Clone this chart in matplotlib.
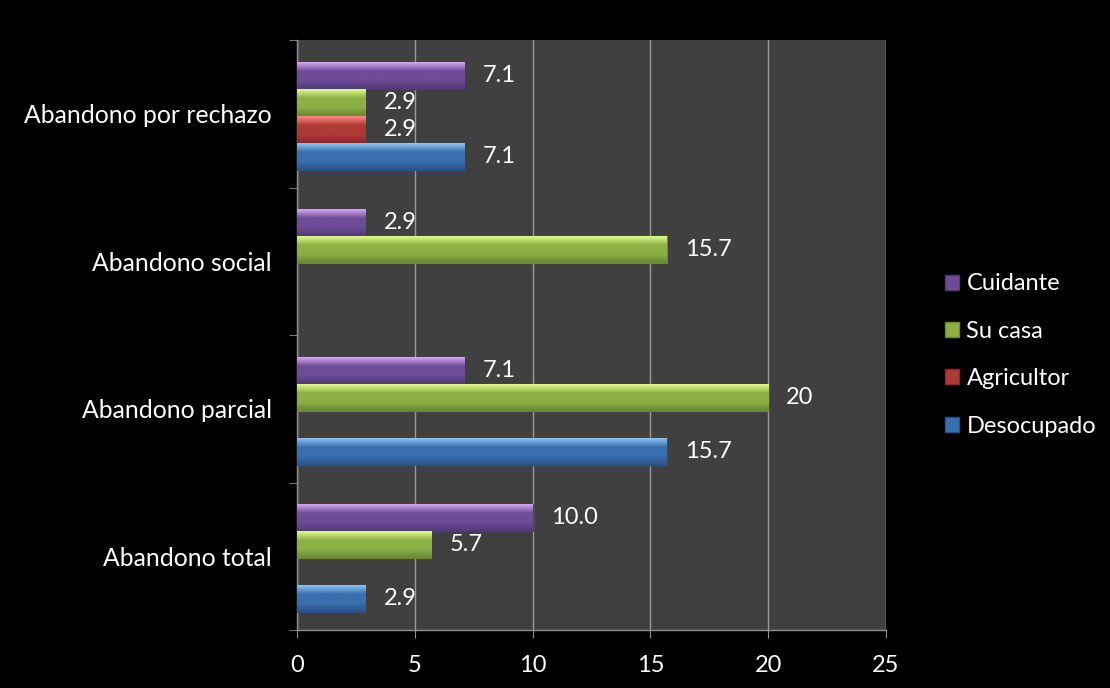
import matplotlib
matplotlib.use("Agg")
import matplotlib.pyplot as plt
import numpy as np
from matplotlib.colors import LinearSegmentedColormap
from matplotlib.patches import Patch

categories = ["Abandono total", "Abandono parcial", "Abandono social", "Abandono por rechazo"]
series_names = ["Desocupado", "Agricultor", "Su casa", "Cuidante"]
desocupado = [2.9, 15.7, None, 7.1]
agricultor = [None, None, None, 2.9]
su_casa = [5.7, 20, 15.7, 2.9]
cuidante = [10.0, 7.1, 2.9, 7.1]
labels_desocupado = ["2.9", "15.7", "", "7.1"]
labels_agricultor = ["", "", "", "2.9"]
labels_su_casa = ["5.7", "20", "15.7", "2.9"]
labels_cuidante = ["10.0", "7.1", "2.9", "7.1"]
x_ticks = [0, 5, 10, 15, 20, 25]

series = [desocupado, agricultor, su_casa, cuidante]
labels = [labels_desocupado, labels_agricultor, labels_su_casa, labels_cuidante]
base_cols = ["#3a6fb0", "#b03a36", "#8db046", "#6e4c98"]
light_cols = ["#8cc4f4", "#ff8a86", "#e0fa8a", "#d6a8f4"]
dark_cols = ["#2a5288", "#8a2a28", "#6a8a30", "#523a78"]

FONT = "Lato"
FS = 17
plt.rcParams["font.family"] = [FONT, "DejaVu Sans"]

fig = plt.figure(figsize=(11.1, 6.88), dpi=100, facecolor="black")
ax = fig.add_axes([297/1110, 1-630/688, (886-297)/1110, (630-40)/688])
ax.set_facecolor("#404040")

slot = 0.183
shift = -0.014
offsets = [-1.5*slot, -0.5*slot, 0.5*slot, 1.5*slot]
y = np.arange(len(categories))

for si, (vals, labs) in enumerate(zip(series, labels)):
    cmap = LinearSegmentedColormap.from_list(
        "g%d" % si, [dark_cols[si], base_cols[si], base_cols[si], light_cols[si]])
    grad = np.linspace(0, 1, 64).reshape(-1, 1)
    for ci, v in enumerate(vals):
        if v is None:
            continue
        yc = y[ci] + offsets[si] + shift
        bars = ax.barh(yc, v, height=slot, color=base_cols[si],
                       edgecolor=dark_cols[si], linewidth=0.8, zorder=3)
        p = bars.patches[0]
        im = ax.imshow(grad, aspect="auto", cmap=cmap, origin="lower",
                       extent=[0, v, yc - slot/2, yc + slot/2], zorder=3.5,
                       interpolation="bicubic")
        im.set_clip_path(p)
        ax.annotate(labs[ci], (v, yc), xytext=(13, 0), textcoords="offset points",
                    va="center", ha="left", color="white", fontsize=FS, zorder=5)

ax.set_xlim(0, 25)
ax.set_ylim(-0.5, len(categories) - 0.5)
ax.set_xticks(x_ticks)
ax.set_xticklabels([str(t) for t in x_ticks], color="white", fontsize=FS)
ax.set_yticks(y)
ax.set_yticklabels(categories, color="white", fontsize=17.8)
ax.set_yticks(np.arange(-0.5, len(categories), 1), minor=True)
ax.tick_params(axis="y", which="major", length=0, pad=18)
ax.tick_params(axis="y", which="minor", length=6, color="#909090", direction="out")
ax.tick_params(axis="x", which="major", length=6, color="#909090", direction="out", pad=12)
ax.grid(axis="x", color="#9a9a9a", linewidth=1.0, zorder=1)
ax.set_axisbelow(True)
for s in ["top", "right"]:
    ax.spines[s].set_visible(False)
for s in ["left", "bottom"]:
    ax.spines[s].set_color("#909090")
    ax.spines[s].set_linewidth(1.0)

handles = [Patch(facecolor=base_cols[i], edgecolor=dark_cols[i], label=series_names[i])
           for i in [3, 2, 1, 0]]
leg = fig.legend(handles=handles, loc="center left", bbox_to_anchor=(924/1110, 1-355/688),
                 frameon=False, fontsize=FS, labelcolor="white", handlelength=0.6,
                 handleheight=0.6, handletextpad=0.3, labelspacing=1.12)

fig.savefig("out.png", dpi=100, facecolor="black")
